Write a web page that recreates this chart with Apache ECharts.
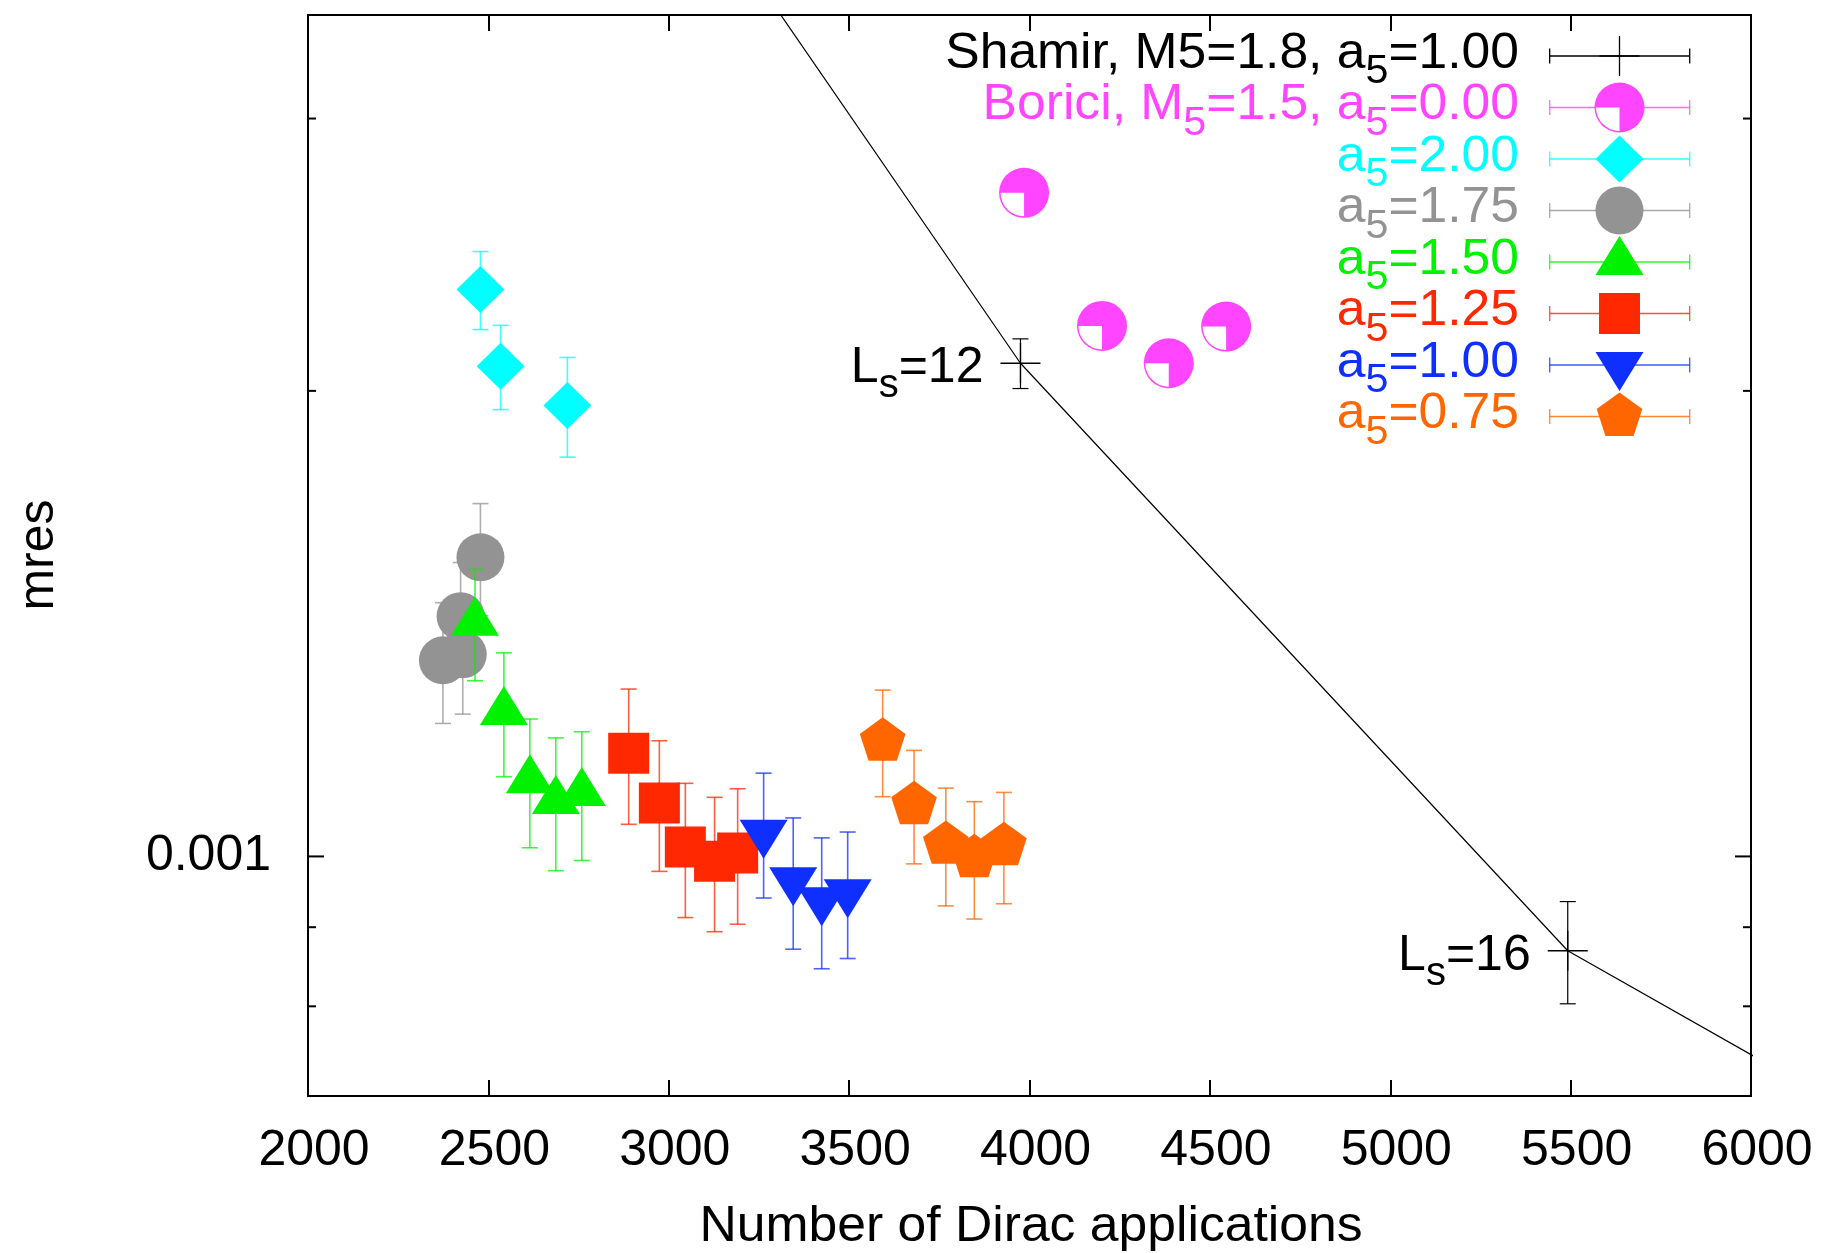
<!DOCTYPE html>
<html>
<head>
<meta charset="utf-8">
<title>mres vs Dirac applications</title>
<script src="https://cdn.jsdelivr.net/npm/echarts@6/dist/echarts.min.js"></script>
<style>
  html, body { margin: 0; padding: 0; background: #ffffff; }
  #chart { width: 1826px; height: 1253px; }
</style>
</head>
<body>
<div id="chart"></div>
<script>
// ---- axis ranges and ticks ----
const xMin = 2000, xMax = 6000, xStep = 500;
const yMin = 0.0007, yMax = 0.0035;
const yMajorTicks = [0.001];
const yMajorLabels = ['0.001'];
const yMinorTicks = [0.0008, 0.0009, 0.002, 0.003];

// ---- Shamir, M5=1.8, a5=1.00 (joined by a line, first and last lie outside the frame) ----
const shamirN    = [3000, 3975, 5492, 7000];
const shamirMres = [0.00446, 0.002084, 0.000869, 0.000549];
const shamirErr  = [null, 0.000077, 0.000066, null];
const shamirTags = ['', 'L_s=12', 'L_s=16', ''];

// ---- Borici, M5=1.5, a5=0.00 ----
const boriciN    = [3985, 4201, 4386, 4545];
const boriciMres = [0.002686, 0.002203, 0.002084, 0.002201];

// ---- a5 = 2.00 ----
const a200N    = [2478, 2534, 2719];
const a200Mres = [0.002326, 0.002075, 0.001957];
const a200Err  = [0.000135, 0.000130, 0.000145];

// ---- a5 = 1.75 ----
const a175N    = [2478, 2423, 2374, 2429];
const a175Mres = [0.001561, 0.001430, 0.001339, 0.001351];
const a175Err  = [0.000130, 0.000119, 0.000120, 0.000115];

// ---- a5 = 1.50 ----
const a150N    = [2463, 2543, 2615, 2687, 2759];
const a150Mres = [0.001416, 0.001240, 0.001120, 0.001086, 0.001099];
const a150Err  = [0.000117, 0.000114, 0.000107, 0.000107, 0.000105];

// ---- a5 = 1.25 ----
const a125N    = [2889, 2974, 3046, 3127, 3191];
const a125Mres = [0.001166, 0.001083, 0.001014, 0.000993, 0.001005];
const a125Err  = [0.000117, 0.000105, 0.000101, 0.000099, 0.000101];

// ---- a5 = 1.00 ----
const a100N    = [3263, 3345, 3424, 3496];
const a100Mres = [0.001036, 0.000965, 0.000937, 0.000948];
const a100Err  = [0.000096, 0.000094, 0.000091, 0.000089];

// ---- a5 = 0.75 ----
const a075N    = [3593, 3680, 3768, 3847, 3929];
const a075Mres = [0.001187, 0.001080, 0.001018, 0.000998, 0.001016];
const a075Err  = [0.000094, 0.000091, 0.000089, 0.000087, 0.000084];

const FONT = "'Liberation Sans', Arial, Helvetica, sans-serif";

const sets = [
  { title: 'Shamir, M5=1.8, a_5=1.00',  color: '#000000', marker: 'plus',     n: shamirN, m: shamirMres, e: shamirErr, tags: shamirTags },
  { title: 'Borici, M_5=1.5, a_5=0.00', color: '#ff45ff', marker: 'quarter',  n: boriciN, m: boriciMres, e: null },
  { title: 'a_5=2.00', color: '#00ffff', marker: 'diamond',  n: a200N, m: a200Mres, e: a200Err },
  { title: 'a_5=1.75', color: '#939393', marker: 'circle',   n: a175N, m: a175Mres, e: a175Err },
  { title: 'a_5=1.50', color: '#00f200', marker: 'triUp',    n: a150N, m: a150Mres, e: a150Err },
  { title: 'a_5=1.25', color: '#ff2800', marker: 'square',   n: a125N, m: a125Mres, e: a125Err },
  { title: 'a_5=1.00', color: '#0f2fff', marker: 'triDown',  n: a100N, m: a100Mres, e: a100Err },
  { title: 'a_5=0.75', color: '#ff6600', marker: 'pentagon', n: a075N, m: a075Mres, e: a075Err }
];

// '_x' marks a one-character subscript
function richify(s) {
  return '{t|' + s.replace(/_(.)/g, '}{s|$1}{t|') + '}';
}
function textEl(str, x, y, color, align, sx) {
  return {
    type: 'text', x: x, y: y, scaleX: sx || 1,
    style: {
      text: richify(str),
      align: align, textAlign: align,
      verticalAlign: 'middle', textVerticalAlign: 'middle',
      fill: color, fontSize: 50, fontFamily: FONT,
      rich: {
        t: { fontSize: 50, fontFamily: FONT, fill: color },
        s: { fontSize: 40, fontFamily: FONT, fill: color, padding: [36, 0, 0, 0] }
      }
    }
  };
}
function seg(x1, y1, x2, y2, color, w, op) {
  return { type: 'line', shape: { x1: x1, y1: y1, x2: x2, y2: y2 },
           style: { stroke: color, lineWidth: w, opacity: op == null ? 1 : op } };
}

// point symbols, centred on (cx, cy)
function markerEls(kind, cx, cy, color) {
  const fill = { fill: color };
  switch (kind) {
    case 'plus':
      return [seg(cx - 20, cy, cx + 20, cy, color, 1.3), seg(cx, cy - 20, cx, cy + 20, color, 1.3)];
    case 'quarter':
      return [
        { type: 'circle', shape: { cx: cx, cy: cy, r: 25 }, style: fill },
        { type: 'sector', shape: { cx: cx, cy: cy, r0: 0, r: 23.5, startAngle: Math.PI / 2, endAngle: Math.PI, clockwise: true },
          style: { fill: '#ffffff' } }
      ];
    case 'diamond':
      return [{ type: 'polygon', shape: { points: [[cx, cy - 23.5], [cx + 24, cy], [cx, cy + 23.5], [cx - 24, cy]] }, style: fill }];
    case 'circle':
      return [{ type: 'circle', shape: { cx: cx, cy: cy, r: 24 }, style: fill }];
    case 'triUp':
      return [{ type: 'polygon', shape: { points: [[cx, cy - 26], [cx + 24, cy + 13], [cx - 24, cy + 13]] }, style: fill }];
    case 'square':
      return [{ type: 'rect', shape: { x: cx - 20.5, y: cy - 20.5, width: 41, height: 41 }, style: fill }];
    case 'triDown':
      return [{ type: 'polygon', shape: { points: [[cx, cy + 26], [cx + 24, cy - 13], [cx - 24, cy - 13]] }, style: fill }];
    case 'pentagon': {
      const pts = [];
      for (let k = 0; k < 5; k++) {
        const a = -Math.PI / 2 + k * 2 * Math.PI / 5;
        pts.push([cx + 24 * Math.cos(a), cy + 24 * Math.sin(a)]);
      }
      return [{ type: 'polygon', shape: { points: pts }, style: fill }];
    }
  }
  return [];
}

// vertical error bars with caps
function barSeries(set) {
  const data = [];
  set.n.forEach(function (x, i) { if (set.e && set.e[i] != null) data.push([x, set.m[i], set.e[i]]); });
  const op = set.color === '#000000' ? 1 : 0.75;
  const w = set.color === '#000000' ? 1.2 : 1.6;
  return {
    type: 'custom', coordinateSystem: 'cartesian2d', clip: true,
    encode: { x: 0, y: 1 },
    data: data,
    renderItem: function (params, api) {
      const x = api.value(0), y = api.value(1), e = api.value(2);
      const top = api.coord([x, y + e]);
      const bot = api.coord([x, y - e]);
      return { type: 'group', children: [
        seg(top[0], top[1], bot[0], bot[1], set.color, w, op),
        seg(top[0] - 8, top[1], top[0] + 8, top[1], set.color, w, op),
        seg(bot[0] - 8, bot[1], bot[0] + 8, bot[1], set.color, w, op)
      ] };
    }
  };
}

function markerSeries(set) {
  return {
    type: 'custom', coordinateSystem: 'cartesian2d', clip: true,
    encode: { x: 0, y: 1 },
    data: set.n.map(function (x, i) { return [x, set.m[i], i]; }),
    renderItem: function (params, api) {
      const p = api.coord([api.value(0), api.value(1)]);
      const children = markerEls(set.marker, p[0], p[1], set.color);
      const tag = set.tags && set.tags[api.value(2)];
      if (tag) children.push(textEl(tag, p[0] - 37, p[1] + 5, '#000000', 'right'));
      return { type: 'group', children: children };
    }
  };
}

// tick marks on the log axis (left and right frame edges)
const tickSeries = {
  type: 'custom', coordinateSystem: 'cartesian2d', clip: false,
  encode: { x: 0, y: 1 },
  data: yMajorTicks.map(function (v, i) { return [xMin, v, 1, i]; })
        .concat(yMinorTicks.map(function (v) { return [xMin, v, 0, -1]; })),
  renderItem: function (params, api) {
    const v = api.value(1);
    const major = api.value(2) === 1;
    const L = api.coord([xMin, v]), R = api.coord([xMax, v]);
    const len = major ? 16 : 8;
    const ch = [seg(L[0], L[1], L[0] + len, L[1], '#000', 2), seg(R[0] - len, R[1], R[0], R[1], '#000', 2)];
    if (major) ch.push(textEl(yMajorLabels[api.value(3)], L[0] - 37, L[1], '#000000', 'right'));
    return { type: 'group', children: ch };
  }
};

// key in the upper right corner
const keyEls = [];
sets.forEach(function (s, i) {
  const ry = 56 + i * 51.5;
  keyEls.push(textEl(s.title, 1519, ry - 2, s.color, 'right', 1.032));
  const op = s.color === '#000000' ? 1 : 0.8;
  keyEls.push(seg(1549.7, ry, 1689.7, ry, s.color, 1.3, op));
  keyEls.push(seg(1549.7, ry - 7.5, 1549.7, ry + 7.5, s.color, 1.3, op));
  keyEls.push(seg(1689.7, ry - 7.5, 1689.7, ry + 7.5, s.color, 1.3, op));
  markerEls(s.marker, 1619.5, ry, s.color).forEach(function (el) { keyEls.push(el); });
});

const series = [{
  type: 'line',
  data: shamirN.map(function (x, i) { return [x, shamirMres[i]]; }),
  symbol: 'none', clip: true,
  lineStyle: { color: '#000000', width: 1.2 },
  z: 2
}];
sets.forEach(function (s) {
  if (s.e) series.push(barSeries(s));
  series.push(markerSeries(s));
});
series.push(tickSeries);

const axisFont = { color: '#000000', fontSize: 50, fontFamily: FONT };

const chart = echarts.init(document.getElementById('chart'), null, { renderer: 'canvas' });
chart.setOption({
  animation: false,
  backgroundColor: '#ffffff',
  grid: { left: 308, right: 75, top: 15, bottom: 157, show: true, borderColor: '#000000', borderWidth: 2,
          backgroundColor: 'transparent', containLabel: false },
  xAxis: [
    { type: 'value', min: xMin, max: xMax, interval: xStep, position: 'bottom',
      axisLine: { show: false }, splitLine: { show: false },
      axisTick: { inside: true, length: 16, lineStyle: { color: '#000', width: 2 } },
      axisLabel: Object.assign({ margin: 30, padding: [0, 0, 0, 12], showMinLabel: true, showMaxLabel: true, hideOverlap: false,
                                 formatter: function (v) { return String(v); } }, axisFont) },
    { type: 'value', min: xMin, max: xMax, interval: xStep, position: 'top',
      axisLine: { show: false }, splitLine: { show: false },
      axisTick: { inside: true, length: 16, lineStyle: { color: '#000', width: 2 } },
      axisLabel: { show: false } }
  ],
  yAxis: {
    type: 'log', logBase: 10, min: yMin, max: yMax,
    axisLine: { show: false }, axisTick: { show: false }, axisLabel: { show: false },
    splitLine: { show: false }, minorTick: { show: false }
  },
  graphic: [
    { type: 'text', x: 39, y: 555, rotation: Math.PI / 2,
      style: { text: 'mres', fill: '#000', fontSize: 50, fontFamily: FONT,
               align: 'center', textAlign: 'center', verticalAlign: 'middle', textVerticalAlign: 'middle' } },
    { type: 'text', x: 1031, y: 1227, scaleX: 1.033,
      style: { text: 'Number of Dirac applications', fill: '#000', fontSize: 50, fontFamily: FONT,
               align: 'center', textAlign: 'center', verticalAlign: 'middle', textVerticalAlign: 'middle' } }
  ].concat(keyEls),
  series: series
});
</script>
</body>
</html>
